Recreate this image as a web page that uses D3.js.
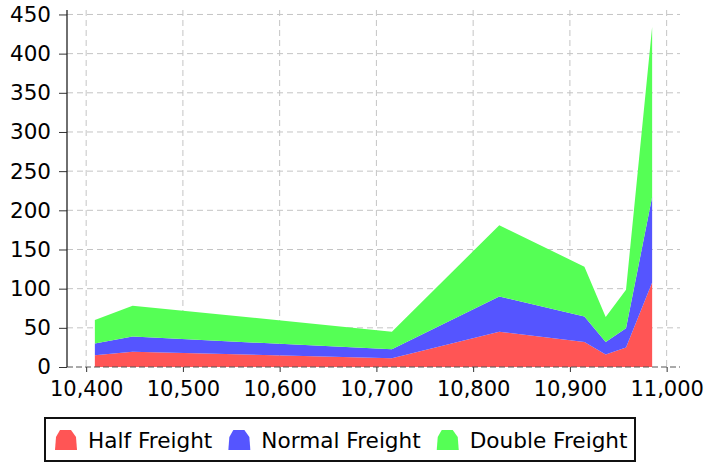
<!DOCTYPE html>
<html>
<head>
<meta charset="utf-8">
<script src="https://cdn.jsdelivr.net/npm/d3@7/dist/d3.min.js"></script>
<style>
  body { margin: 0; background: #fff; }
  text { font-family: "DejaVu Sans", sans-serif; fill: #000; }
</style>
</head>
<body>
<svg id="chart" width="704" height="463"></svg>
<script>
// values
let xValues = [10409, 10448, 10716, 10827, 10915, 10937, 10958, 10985];
let halfFreight = [15, 19.5, 11.3, 45, 32, 16, 25, 108];
let normalFreight = [15, 19.3, 11.3, 45, 32.5, 15.8, 24.5, 109];
let doubleFreight = [30, 39.5, 22.4, 91, 63.5, 32, 49, 217];

let seriesNames = ["Half Freight", "Normal Freight", "Double Freight"];
let seriesColors = ["#ff5555", "#5555ff", "#55ff55"];

let xTicks = [10400, 10500, 10600, 10700, 10800, 10900, 11000];
let yTicks = [0, 50, 100, 150, 200, 250, 300, 350, 400, 450];

var svg = d3.select("#chart");

let plotLeft = 67, plotRight = 680, plotTop = 10, plotBottom = 367;

// build rows for the stack
let rows = [];
for(let i = 0; i < xValues.length; i++){
    rows.push({x: xValues[i], h: halfFreight[i], n: normalFreight[i], d: doubleFreight[i]});
}
let stacked = d3.stack().keys(["h", "n", "d"])(rows);

let xMin = d3.min(xValues), xMax = d3.max(xValues);
let pad = (xMax - xMin) * 0.05;
let x = d3.scaleLinear().domain([xMin - pad, xMax + pad]).range([plotLeft, plotRight]);

let yMax = d3.max(stacked[2], d => d[1]) * 1.05;
let y = d3.scaleLinear().domain([0, yMax]).range([plotBottom, plotTop]);

// gridlines
svg.append("g")
    .selectAll("line")
    .data(xTicks)
    .enter()
    .append("line")
    .attr("x1", d => x(d)).attr("x2", d => x(d))
    .attr("y1", plotTop).attr("y2", plotBottom)
    .style("stroke", "#c4c4c4")
    .style("stroke-width", 1)
    .style("stroke-dasharray", "6,4");

svg.append("g")
    .selectAll("line")
    .data(yTicks.filter(d => d > 0))
    .enter()
    .append("line")
    .attr("x1", plotLeft).attr("x2", plotRight)
    .attr("y1", d => y(d)).attr("y2", d => y(d))
    .style("stroke", "#c4c4c4")
    .style("stroke-width", 1)
    .style("stroke-dasharray", "6,4");

// stacked areas
let area = d3.area()
    .x(d => x(d.data.x))
    .y0(d => y(d[0]))
    .y1(d => y(d[1]));

svg.append("g")
    .selectAll("path")
    .data(stacked)
    .enter()
    .append("path")
    .attr("d", area)
    .style("fill", (d, i) => seriesColors[i])
    .style("stroke", "none");

// x axis (dashed baseline)
svg.append("line")
    .attr("x1", plotLeft).attr("x2", plotRight)
    .attr("y1", plotBottom).attr("y2", plotBottom)
    .style("stroke", "#555")
    .style("stroke-width", 1)
    .style("stroke-dasharray", "6,3");

let xAxis = d3.axisBottom(x)
    .tickValues(xTicks)
    .tickFormat(d3.format(","))
    .tickSize(5)
    .tickPadding(9);

let gx = svg.append("g")
    .attr("transform", "translate(0," + plotBottom + ")")
    .call(xAxis);
gx.select(".domain").remove();
gx.selectAll(".tick line").style("stroke", "#333");
gx.selectAll("text")
    .style("font-size", "21px")
    .style("font-family", "DejaVu Sans")
    .attr("fill", "#000");

// y axis
let yAxis = d3.axisLeft(y)
    .tickValues(yTicks)
    .tickSize(8)
    .tickPadding(8);

let gy = svg.append("g")
    .attr("transform", "translate(" + plotLeft + ",0)")
    .call(yAxis);
gy.select(".domain").remove();
gy.selectAll(".tick line").style("stroke", "#333");
gy.selectAll("text")
    .style("font-size", "21.5px")
    .style("font-family", "DejaVu Sans")
    .attr("fill", "#000");

svg.append("line")
    .attr("x1", plotLeft).attr("x2", plotLeft)
    .attr("y1", plotTop).attr("y2", plotBottom)
    .style("stroke", "#222")
    .style("stroke-width", 1.3);

// legend
let legend = svg.append("g");
legend.append("rect")
    .attr("x", 45).attr("y", 418)
    .attr("width", 590).attr("height", 43)
    .style("fill", "#fff")
    .style("stroke", "#111")
    .style("stroke-width", 2);

// house-shaped marker
let marker = "M5,0 L16,0 L21,7 L22,20 L0,20 L1,7 Z";

let cursor = 55;
for(let i = 0; i < seriesNames.length; i++){
    legend.append("path")
        .attr("d", marker)
        .attr("transform", "translate(" + cursor + ",430)")
        .style("fill", seriesColors[i]);
    let t = legend.append("text")
        .attr("x", cursor + 33)
        .attr("y", 448)
        .style("font-size", "21.6px")
        .text(seriesNames[i]);
    cursor = cursor + 33 + t.node().getComputedTextLength() + 16;
}
</script>
</body>
</html>
